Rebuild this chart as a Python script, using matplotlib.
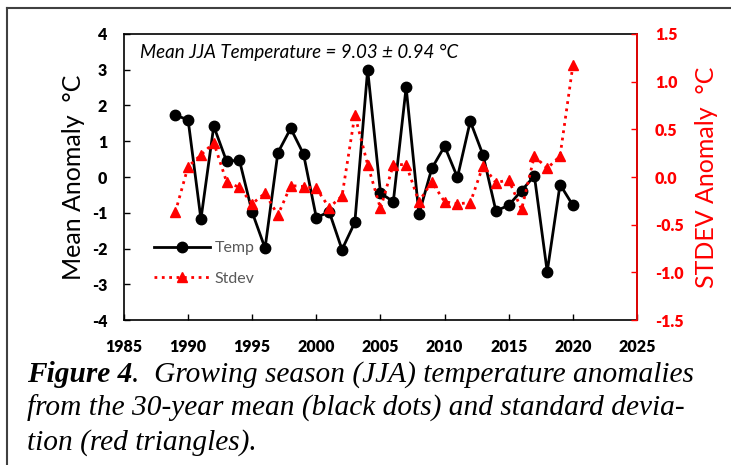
import matplotlib
matplotlib.use("Agg")
import matplotlib.pyplot as plt
from matplotlib.lines import Line2D

years = list(range(1989, 2021))
temp = [1.73, 1.60, -1.18, 1.42, 0.44, 0.47, -0.99, -1.99, 0.68, 1.36,
        0.64, -1.14, -0.97, -2.03, -1.27, 3.00, -0.45, -0.69, 2.51, -1.04,
        0.24, 0.86, -0.01, 1.56, 0.61, -0.95, -0.79, -0.38, 0.03, -2.65,
        -0.21, -0.79]
stdev = [-0.37, 0.11, 0.23, 0.36, -0.05, -0.11, -0.28, -0.17, -0.40, -0.09,
         -0.10, -0.12, -0.32, -0.20, 0.65, 0.13, -0.33, 0.13, 0.13, -0.26,
         -0.05, -0.26, -0.28, -0.27, 0.12, -0.06, -0.03, -0.34, 0.22, 0.09,
         0.22, 1.17]

xticks = list(range(1985, 2026, 5))
yticks_left = list(range(-4, 5))
yticks_right = [-1.5, -1.0, -0.5, 0.0, 0.5, 1.0, 1.5]

plt.rcParams['font.family'] = ['Lato', 'DejaVu Sans']
plt.rcParams['axes.unicode_minus'] = False

fig = plt.figure(figsize=(7.31, 4.65), dpi=100)
ax = fig.add_axes([0.1696, 0.3118, 0.7018, 0.6151])
ax2 = ax.twinx()

l1, = ax.plot(years, temp, color='black', lw=2, marker='o', ms=7.5, label='Temp')
l2, = ax2.plot(years, stdev, color='red', lw=2, ls=':', marker='^', ms=7.5, label='Stdev')

ax.set_xlim(1985, 2025)
ax.set_ylim(-4, 4)
ax2.set_ylim(-1.5, 1.5)
ax.set_xticks(xticks)
ax.set_yticks(yticks_left)
ax2.set_yticks(yticks_right)
ax2.set_yticklabels([f"{v:.1f}" for v in yticks_right])

ax.tick_params(axis='both', direction='in', length=4, width=1, labelsize=11.5)
ax.tick_params(axis='y', pad=12)
ax.tick_params(axis='x', pad=14)
ax2.tick_params(axis='y', direction='in', length=4, width=1, colors='red',
                labelsize=11.5, pad=13)
for lab in ax.get_xticklabels() + ax.get_yticklabels() + ax2.get_yticklabels():
    lab.set_fontweight('heavy')

for s in ax.spines.values():
    s.set_linewidth(1.2)
ax2.spines['right'].set_color('red')
ax2.spines['right'].set_linewidth(1.2)
ax2.spines['left'].set_visible(False)
ax2.spines['top'].set_visible(False)
ax2.spines['bottom'].set_visible(False)

ax.set_ylabel('Mean Anomaly  °C', fontsize=18, labelpad=5)
ax2.set_ylabel('STDEV Anomaly  °C', fontsize=18, color='red', labelpad=8)

ax.text(0.031, 0.937, 'Mean JJA Temperature = 9.03 ± 0.94 °C', transform=ax.transAxes,
        fontsize=13.5, style='italic', va='center', ha='left')

leg = ax.legend(handles=[l1, l2], loc='lower left', bbox_to_anchor=(0.03, 0.07),
                frameon=False, fontsize=11.5, handlelength=3.5, labelspacing=1.0,
                handletextpad=0.3)
for t in leg.get_texts():
    t.set_color('#595959')

# outer frame (left and top edges)
fig.add_artist(Line2D([7 / 731, 7 / 731], [0, 1 - 8 / 465], transform=fig.transFigure,
                      color='#404040', lw=1.5))
fig.add_artist(Line2D([7 / 731, 1], [1 - 8 / 465, 1 - 8 / 465], transform=fig.transFigure,
                      color='#404040', lw=1.5))

cap = dict(family='Liberation Serif', fontsize=21.2, style='italic')
t1 = fig.text(27 / 731, 1 - 382 / 465, 'Figure 4', fontweight='bold', va='baseline', **cap)
ax.annotate('.  Growing season (JJA) temperature anomalies', xy=(1, 0), xycoords=t1,
            va='bottom', ha='left', annotation_clip=False, **cap)
fig.text(27 / 731, 1 - 416 / 465,
         'from the 30-year mean (black dots) and standard devia-', va='baseline', **cap)
fig.text(27 / 731, 1 - 450 / 465, 'tion (red triangles).', va='baseline', **cap)

fig.savefig('out.png', dpi=100)
